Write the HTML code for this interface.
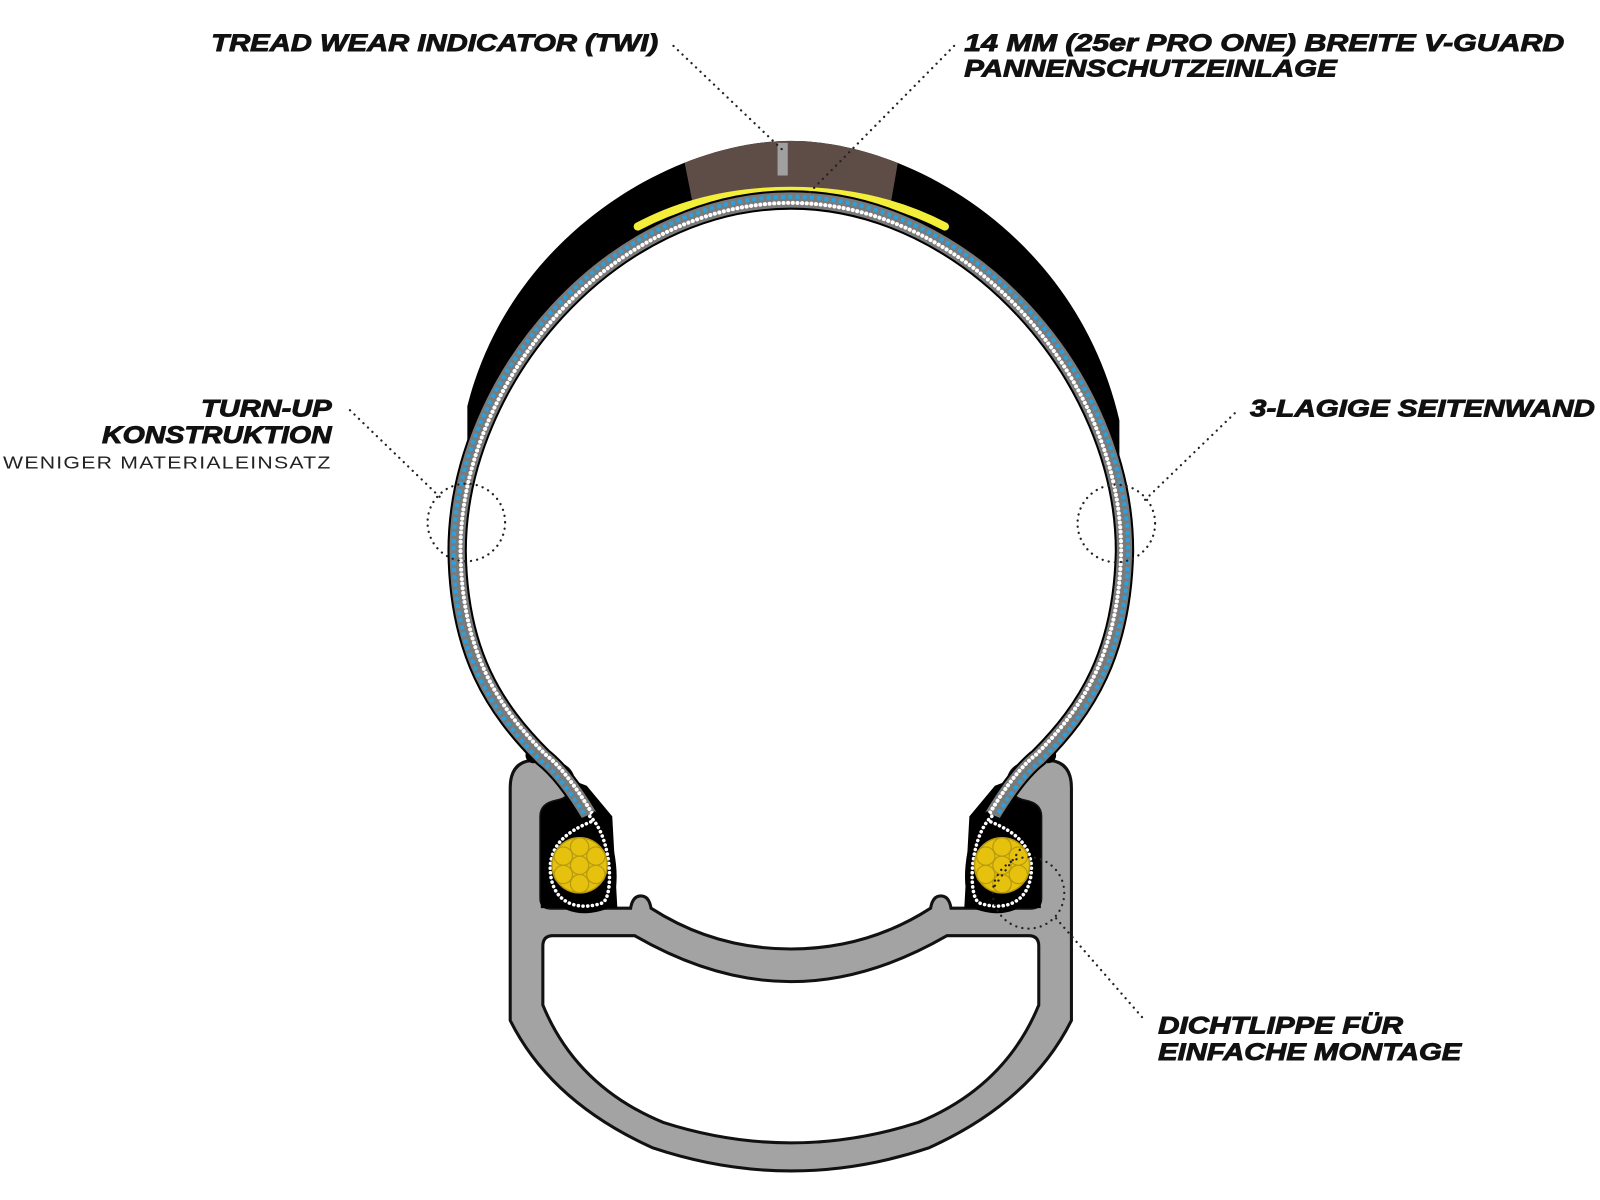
<!DOCTYPE html>
<html><head><meta charset="utf-8"><style>
html,body{margin:0;padding:0;background:#fff;}
svg{display:block;}
.t{font-family:"Liberation Sans",sans-serif;font-weight:bold;font-style:italic;font-size:24px;fill:#111;stroke:#111;stroke-width:0.9;}
.s{font-family:"Liberation Sans",sans-serif;font-size:17px;fill:#222;letter-spacing:1px;}
.d{fill:none;stroke:#222;stroke-width:2.2;stroke-dasharray:0.1 6;stroke-linecap:round;}
</style></head><body>
<svg width="1600" height="1200" viewBox="0 0 1568 1176" preserveAspectRatio="none" xmlns="http://www.w3.org/2000/svg">
<defs>
<path id="cas" d="M578,800 C560,770 545,752 532,742 C485,695 449,640 448,540 C448,370 600,196 775,196 C950,196 1102,370 1102,540 C1100,640 1065,695 1018,742 C1005,752 990,770 972,800"/>
<path id="tread" d="M458,398 C500,230 660,138 775,138 C890,138 1055,230 1097,412 L1097,600 L458,600 Z"/>
<clipPath id="tc"><use href="#tread"/></clipPath>
</defs>
<use href="#tread" fill="#000"/>
<polygon points="665,130 885,130 872,205 680,205" fill="#5e4d47" clip-path="url(#tc)"/>
<path d="M578,800 C560,770 545,752 532,742 C485,695 449,640 448,540 C448,370 600,196 775,196 C950,196 1102,370 1102,540 C1100,640 1065,695 1018,742 C1005,752 990,770 972,800 Z" fill="#fff"/>
<rect x="762" y="140" width="10" height="32" fill="#a0a0a0"/>
<path d="M625,222 C670,198 720,187 775,187 C830,187 880,198 926,222" fill="none" stroke="#f2ee3a" stroke-width="8" stroke-linecap="round"/>
<!-- rim -->
<path d="M500,772 Q500,745 525,745 Q560,745 562,765 Q562,782 545,785 Q530,788 530,800 L530,880 Q530,890 540,890 L618,890 Q620,878 628,878 Q636,878 638,890 Q700,930 775,930 Q850,930 912,890 Q914,878 922,878 Q930,878 932,890 L1010,890 Q1020,890 1020,880 L1020,800 Q1020,788 1005,785 Q988,782 988,765 Q990,745 1025,745 Q1050,745 1050,772 L1050,1000 Q1010,1080 910,1125 Q775,1170 640,1125 Q540,1080 500,1000 Z" fill="#a3a3a3" stroke="#111" stroke-width="3"/>
<path d="M542,917 L622,917 Q700,962 775,962 Q850,962 928,917 L1008,917 Q1018,917 1018,927 L1018,985 Q985,1065 900,1100 Q775,1140 650,1100 Q565,1065 532,985 L532,927 Q532,917 542,917 Z" fill="#fff" stroke="#111" stroke-width="3"/>
<path d="M530,800 Q530,788 545,785 Q562,782 562,765 L575,770 L600,800 L605,890 L530,890 Z" fill="#000"/>
<path d="M1020,800 Q1020,788 1005,785 Q988,782 988,765 L975,770 L950,800 L945,890 L1020,890 Z" fill="#000"/>
<ellipse cx="523" cy="740" rx="8" ry="8" fill="#000"/>
<ellipse cx="1027" cy="740" rx="8" ry="8" fill="#000"/>
<!-- casing -->
<use href="#cas" fill="none" stroke="#000" stroke-width="19"/>
<use href="#cas" fill="none" stroke="#7a7a7a" stroke-width="15"/>
<g transform="translate(775,480) scale(1.011) translate(-775,-480)"><use href="#cas" fill="none" stroke="#2aa0dd" stroke-width="4" stroke-dasharray="4 3"/></g>
<g transform="translate(775,480) scale(0.99) translate(-775,-480)"><use href="#cas" fill="none" stroke="#fff" stroke-width="4" stroke-dasharray="0.1 4.5" stroke-linecap="round"/></g>
<path d="M578,800 C600,820 602,880 590,885 C570,892 545,888 540,860 C535,830 555,815 580,805" fill="none" stroke="#000" stroke-width="14"/>
<path d="M578,800 C600,820 602,880 590,885 C570,892 545,888 540,860 C535,830 555,815 580,805" fill="none" stroke="#fff" stroke-width="3.5" stroke-dasharray="0.1 4.5" stroke-linecap="round"/>
<path d="M972,800 C950,820 948,880 960,885 C980,892 1005,888 1010,860 C1015,830 995,815 970,805" fill="none" stroke="#000" stroke-width="14"/>
<path d="M972,800 C950,820 948,880 960,885 C980,892 1005,888 1010,860 C1015,830 995,815 970,805" fill="none" stroke="#fff" stroke-width="3.5" stroke-dasharray="0.1 4.5" stroke-linecap="round"/>
<circle cx="568" cy="848" r="27" fill="#e6c20e" stroke="#b89a10" stroke-width="1.5"/>
<circle cx="982" cy="848" r="27" fill="#e6c20e" stroke="#b89a10" stroke-width="1.5"/>
<g fill="none" stroke="#b89a10" stroke-width="1.2">
<circle cx="568" cy="848" r="9"/><circle cx="568" cy="830" r="9"/><circle cx="568" cy="866" r="9"/><circle cx="552" cy="839" r="9"/><circle cx="584" cy="839" r="9"/><circle cx="552" cy="857" r="9"/><circle cx="584" cy="857" r="9"/>
<circle cx="982" cy="848" r="9"/><circle cx="982" cy="830" r="9"/><circle cx="982" cy="866" r="9"/><circle cx="966" cy="839" r="9"/><circle cx="998" cy="839" r="9"/><circle cx="966" cy="857" r="9"/><circle cx="998" cy="857" r="9"/>
</g>
<path class="d" d="M660,45 L768,148"/>
<path class="d" d="M935,45 L792,190"/>
<path class="d" d="M343,402 L432,488"/>
<circle class="d" cx="457" cy="512" r="38"/>
<path class="d" d="M1210,405 L1122,490"/>
<circle class="d" cx="1094" cy="513" r="38"/>
<circle class="d" cx="1008" cy="875" r="35"/>
<path class="d" d="M1035,900 L1122,1000"/>
<path class="d" d="M975,868 L1000,832"/>
<text class="t" x="207" y="50" textLength="438" lengthAdjust="spacingAndGlyphs">TREAD WEAR INDICATOR (TWI)</text>
<text class="t" x="945" y="50" textLength="588" lengthAdjust="spacingAndGlyphs">14 MM (25er PRO ONE) BREITE V-GUARD</text>
<text class="t" x="945" y="75" textLength="365" lengthAdjust="spacingAndGlyphs">PANNENSCHUTZEINLAGE</text>
<text class="t" x="197" y="408" textLength="128" lengthAdjust="spacingAndGlyphs">TURN-UP</text>
<text class="t" x="100" y="434" textLength="225" lengthAdjust="spacingAndGlyphs">KONSTRUKTION</text>
<text class="s" x="3" y="459" textLength="322" lengthAdjust="spacingAndGlyphs">WENIGER MATERIALEINSATZ</text>
<text class="t" x="1225" y="408" textLength="338" lengthAdjust="spacingAndGlyphs">3-LAGIGE SEITENWAND</text>
<text class="t" x="1135" y="1013" textLength="240" lengthAdjust="spacingAndGlyphs">DICHTLIPPE FÜR</text>
<text class="t" x="1135" y="1039" textLength="297" lengthAdjust="spacingAndGlyphs">EINFACHE MONTAGE</text>
</svg>
</body></html>
